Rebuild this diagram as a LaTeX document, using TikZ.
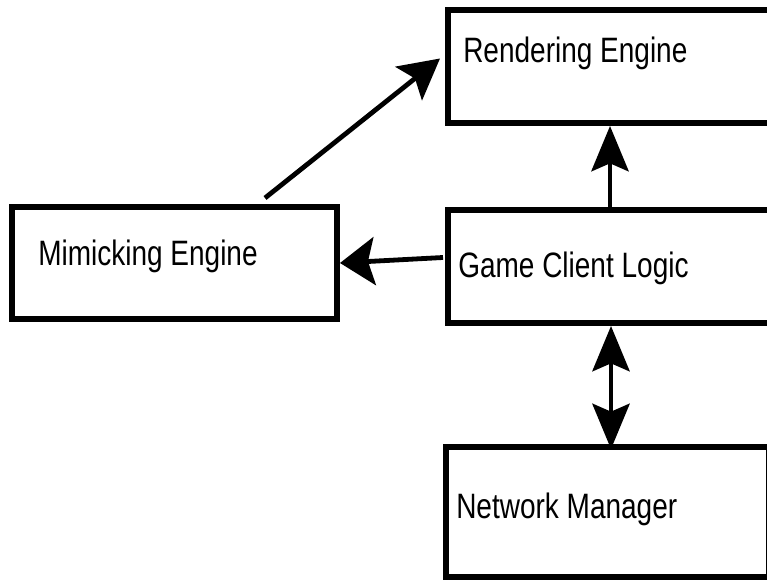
\documentclass[tikz,border=0pt]{standalone}
\usepackage{fontspec}
\setmainfont{Liberation Sans}
\usetikzlibrary{arrows.meta,calc}
\tikzset{
  blk/.style={draw, line width=4.5pt, rectangle, inner sep=0pt},
  lbl/.style={anchor=base west, inner sep=0pt, font=\fontsize{21}{25}\selectfont},
  arr/.style={line width=3.6pt, -{Stealth[length=34pt, width=28pt, inset=6pt]}},
  dbl/.style={line width=3pt, {Stealth[length=34pt, width=28pt, inset=6pt]}-{Stealth[length=34pt, width=28pt, inset=6pt]}}
}
\newcommand{\tall}[1]{\scalebox{1}[1.26]{#1}}

\begin{document}
\begin{tikzpicture}[x=0.75pt, y=-0.75pt]
  %%%%% START %%%%%
  \clip (0,0) rectangle (767,580);

  % boxes
  \node[blk, minimum width=264pt, minimum height=84.75pt] (render) at (624,66.5) {};
  \node[blk, minimum width=243.75pt, minimum height=84pt] (mimic) at (174.5,263) {};
  \node[blk, minimum width=264pt, minimum height=84.75pt] (client) at (624,266.5) {};
  \node[blk, minimum width=242.25pt, minimum height=97.5pt] (network) at (607.5,512) {};

  % labels
  \node[lbl] (renderTxt) at (463,63) {\tall{Rendering Engine}};
  \node[lbl] (mimicTxt) at (38,266) {\tall{Mimicking Engine}};
  \node[lbl] (clientTxt) at (458,278) {\tall{Game Client Logic}};
  \node[lbl] (networkTxt) at (456,518) {\tall{Network Manager}};

  % connectors
  \draw[arr, -{Stealth[length=30pt, width=32pt, inset=6pt]}] ($(mimic.north)+(90.5,-6)$) -- ($(render.west)+(-5,-8)$);
  \draw[arr, -{Stealth[length=26pt, width=36pt, inset=5pt]}] ($(client.west)+(-2,-9)$) -- (mimic.east);
  \coordinate (upx) at ($(client.north)+(-14,0)$);
  \draw[arr, line width=3pt] (upx) -- (upx |- render.south);
  \coordinate (busx) at ($(client.south)+(-13,0)$);
  \draw[dbl] (busx) -- ($(busx |- network.north)+(0,5)$);
  %%%%% END %%%%%
\end{tikzpicture}
\end{document}
